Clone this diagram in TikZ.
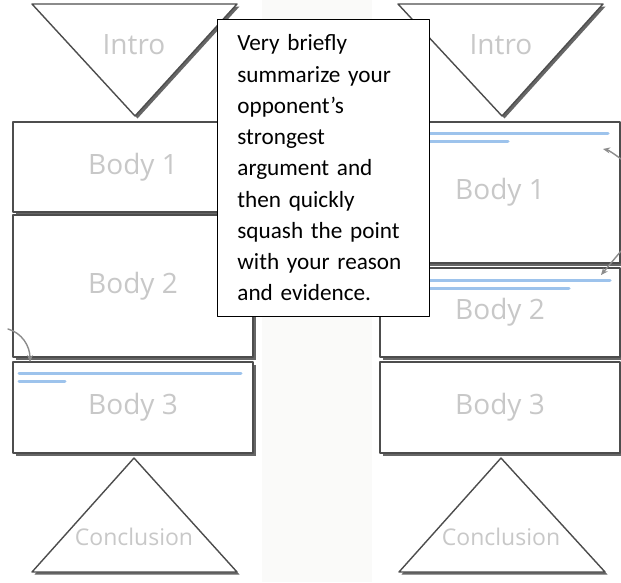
\documentclass[tikz,border=0pt]{standalone}
\usepackage{fontspec}
\setmainfont{Carlito}
\newfontfamily\labelfont{Open Sans}
\usetikzlibrary{shadows, arrows.meta}
\definecolor{edgegrey}{HTML}{4D4D4D}
\definecolor{labelgrey}{HTML}{C8C8C8}
\definecolor{markblue}{HTML}{9DC3EC}
\definecolor{cuegrey}{HTML}{8C8C8C}
\definecolor{stripgrey}{HTML}{FAFAF9}

\begin{document}
\begin{tikzpicture}[
        x=1pt, y=-1pt,
        line cap=round, line join=round,
        part/.style={draw=edgegrey, line width=1.4pt, fill=white,
            drop shadow={shadow xshift=2.5pt, shadow yshift=-2.5pt, opacity=0.8, fill=black!75}},
        bodybox/.style={part, minimum width=240pt, inner sep=0pt, text=labelgrey,
            font=\labelfont\fontsize{28}{30}\selectfont},
        partlabel/.style={text=labelgrey, inner sep=0pt, font=\labelfont\fontsize{28}{30}\selectfont},
        endlabel/.style={partlabel, font=\labelfont\fontsize{23}{25}\selectfont},
        bluemark/.style={draw=markblue, line width=3pt},
        cue/.style={draw=cuegrey, line width=1.4pt, -{Stealth[length=7pt, width=6pt]}},
        notebox/.style={draw=black, line width=0.8pt, fill=white, anchor=north west,
            text width=172pt, align=left, inner xsep=20pt, inner ysep=0pt,
            minimum width=212pt, minimum height=297pt,
            font=\fontsize{23.2}{31.25}\selectfont}
    ]
    \useasboundingbox[fill=white] (0,0) rectangle (621,582);
    \fill[stripgrey] (262,0) rectangle (372,582);

    \node[bodybox, minimum height=90pt] (lbody1) at (133,167) {Body 1};
    \node[bodybox, minimum height=142pt] (lbody2) at (133,286) {Body 2};
    \node[bodybox, minimum height=91pt] (lbody3) at (133,407.5) {Body 3};
    \draw[part] (32,4) -- (237,4) -- (135,116) -- cycle;
    \node[partlabel] (lintro) at (134,45) {Intro};
    \draw[part] (32,572) -- (237,572) -- (134,458) -- cycle;
    \node[endlabel] (lconcl) at (134,537) {Conclusion};
    \draw[bluemark] (19,373) -- (241,373);
    \draw[bluemark] (19,381) -- (65,381);
    \coordinate (lcuestart) at (8,329);
    \coordinate (lcueend) at (30,362);
    \draw[cue] (lcuestart) .. controls (22,333) and (30,346) .. (lcueend);

    \node[bodybox, minimum height=141pt] (rbody1) at (500,192.5) {Body 1};
    \node[bodybox, minimum height=89pt] (rbody2) at (500,312.5) {Body 2};
    \node[bodybox, minimum height=91pt] (rbody3) at (500,407.5) {Body 3};
    \draw[part] (398,4) -- (603,4) -- (502,116) -- cycle;
    \node[partlabel] (rintro) at (501,45) {Intro};
    \draw[part] (399,572) -- (605,572) -- (501,458) -- cycle;
    \node[endlabel] (rconcl) at (501,537) {Conclusion};
    \draw[bluemark] (386,133) -- (608,133);
    \draw[bluemark] (386,141) -- (508,141);
    \draw[bluemark] (386,280) -- (610,280);
    \draw[bluemark] (386,288) -- (569,288);
    \coordinate (rcuea) at (621,159);
    \coordinate (rcueb) at (603,149);
    \draw[cue] (rcuea) .. controls (613,153) and (608,150) .. (rcueb);
    \coordinate (rcuec) at (621,251);
    \coordinate (rcued) at (601,275);
    \draw[cue] (rcuec) -- (rcued);

    \node[notebox] (note) at (217,19) {Very briefly\\summarize your\\opponent’s\\strongest\\argument and\\then quickly\\squash the point\\with your reason\\and evidence.};
\end{tikzpicture}
\end{document}
